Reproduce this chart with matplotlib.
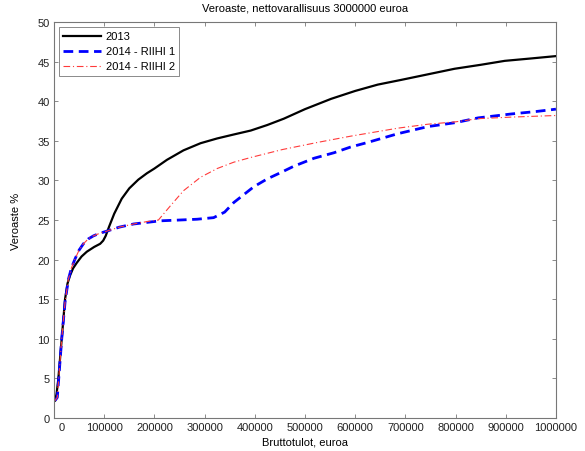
import matplotlib
matplotlib.use("Agg")
import matplotlib.pyplot as plt
from matplotlib.transforms import ScaledTranslation

plt.rcParams['font.family'] = ['Liberation Sans', 'DejaVu Sans']
plt.rcParams['font.size'] = 8

# 2013
x_2013 = [2000, 5000, 8600, 15400, 22000, 27000, 32000, 38000, 45400, 55000,
          65400, 80000, 92000, 98000, 103000, 110000, 120000, 135000, 150000, 168000,
          185000, 200000, 225000, 258000, 292000, 325000, 358000, 392000, 425000,
          458000, 500000, 552000, 600000, 645000, 692000, 745000, 798000, 850000,
          898000, 950000, 1000000]
y_2013 = [2.2, 3.0, 4.9, 10.0, 15.0, 17.0, 18.0, 18.9, 19.6, 20.4,
          21.0, 21.6, 22.0, 22.4, 23.0, 24.2, 25.8, 27.7, 29.0, 30.1,
          30.9, 31.5, 32.6, 33.8, 34.7, 35.3, 35.8, 36.3, 37.0,
          37.8, 39.0, 40.3, 41.3, 42.1, 42.7, 43.4, 44.1, 44.6,
          45.1, 45.4, 45.7]

# 2014 - RIIHI 1
x_r1 = [2000, 6600, 15400, 22000, 28600, 35000, 42000, 50000, 58600, 68000,
        78600, 90000, 105400, 130000, 158600, 185000, 212000, 250000, 285000, 318000,
        340000, 358000, 372000, 398000, 425000, 452000, 478000, 518000, 558000,
        590000, 625000, 685000, 745000, 800000, 845000, 912000, 960000, 1000000]
y_r1 = [2.2, 2.6, 10.0, 14.6, 17.5, 19.0, 20.1, 21.2, 22.0, 22.6,
        23.0, 23.3, 23.6, 24.1, 24.5, 24.7, 24.9, 25.0, 25.1, 25.3,
        26.0, 27.2, 27.9, 29.2, 30.2, 31.0, 31.8, 32.8, 33.5,
        34.2, 34.8, 35.9, 36.8, 37.3, 37.9, 38.4, 38.7, 39.0]

# 2014 - RIIHI 2
x_r2 = [2000, 6600, 15400, 22000, 28600, 35000, 42000, 50000, 58600, 68000,
        78600, 90000, 105400, 130000, 158600, 185000, 208000, 232000, 258000, 292000,
        325000, 358000, 392000, 455000, 525000, 592000, 685000, 745000, 800000,
        845000, 912000, 1000000]
y_r2 = [2.2, 2.6, 10.0, 14.6, 17.5, 19.0, 20.1, 21.2, 22.0, 22.6,
        23.0, 23.3, 23.6, 24.1, 24.5, 24.8, 25.0, 26.8, 28.7, 30.4,
        31.5, 32.3, 32.9, 33.9, 34.8, 35.6, 36.6, 37.1, 37.4,
        37.8, 38.0, 38.2]

fig = plt.figure(figsize=(5.85, 4.52), dpi=100)
ax = fig.add_axes([0.0923, 0.073, 0.858, 0.876])

ax.plot(x_2013, y_2013, color='black', lw=1.6, label='2013')
ax.plot(x_r1, y_r1, color='blue', lw=2.0, ls=(0, (3.5, 2)), label='2014 - RIIHI 1')
ax.plot(x_r2, y_r2, color='#ff3a3a', lw=0.8, ls=(0, (6, 2.5, 1, 2.5)), label='2014 - RIIHI 2')

ax.set_xlim(0, 1000000)
ax.set_ylim(0, 50)
ax.set_xticks(range(0, 1000001, 100000))
ax.set_xticklabels([str(v) for v in range(0, 1000001, 100000)])
ax.set_yticks(range(0, 51, 5))

for s in ax.spines.values():
    s.set_color('#777777')
    s.set_linewidth(0.8)
ax.tick_params(direction='in', length=3, width=0.6, color='#777777',
               top=True, right=True, labelcolor='#222222', pad=3)

lab = ax.get_xticklabels()[0]
lab.set_transform(lab.get_transform() + ScaledTranslation(8 / 100, 0, fig.dpi_scale_trans))

ax.set_title('Veroaste, nettovarallisuus 3000000 euroa', fontsize=8, pad=8)
ax.set_xlabel('Bruttotulot, euroa', labelpad=3)
ax.set_ylabel('Veroaste %', labelpad=12)

leg = ax.legend(loc='upper left', fancybox=False, framealpha=1, edgecolor='#777777',
                handlelength=3.4, borderpad=0.4, labelspacing=0.45,
                borderaxespad=0.45, handletextpad=0.4)
leg.get_frame().set_linewidth(0.6)

fig.savefig('out.png', dpi=100)
